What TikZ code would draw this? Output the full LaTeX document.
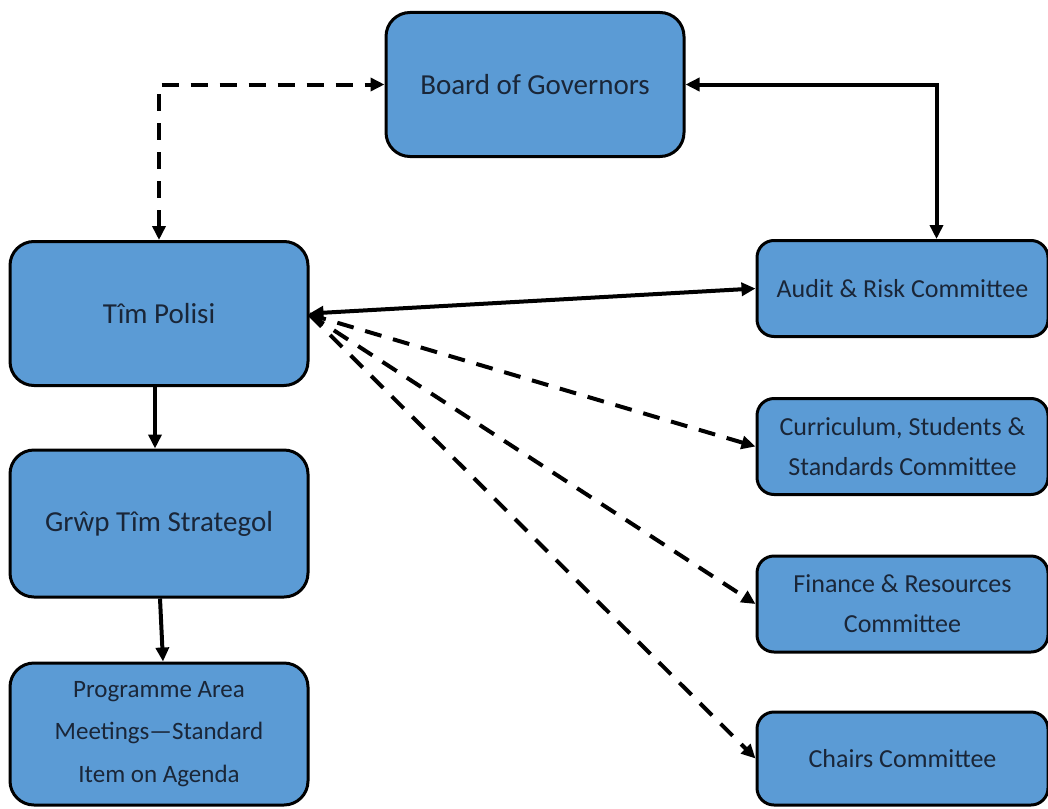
\documentclass[tikz,border=0pt]{standalone}
\usepackage{fontspec}
\setmainfont{Carlito}
\usepackage{tikz}
\usetikzlibrary{positioning}
\usetikzlibrary{arrows.meta}

\definecolor{boxblue}{HTML}{5B9BD5}
\definecolor{boxtext}{HTML}{1A2638}

\tikzset{
  unit/.style={draw=black, line width=3pt, fill=boxblue, text=boxtext,
    rounded corners=24pt, align=center, inner sep=0pt},
  bigunit/.style={unit, minimum width=298pt, minimum height=144pt, font=\fontsize{29}{36}\selectfont},
  committee/.style={unit, rounded corners=17pt, minimum width=291pt, minimum height=96pt, font=\fontsize{26}{40}\selectfont},
  link/.style={line width=4pt, >={Triangle[length=14pt,width=13pt]}},
  dlink/.style={link, dash pattern=on 17pt off 12pt}
}

\begin{document}
\begin{tikzpicture}[x=1pt, y=-1pt, node distance=150pt, on grid]%, semithick]

\useasboundingbox (0,0) rectangle (1048,808);

\node [bigunit] (board) at (535,84.5) {Board of Governors};
\node [bigunit] (polisi) at (159,313.5) {Tîm Polisi};
\node [bigunit, minimum height=147pt] (grwp) [below = 210pt of polisi] {Grŵp Tîm Strategol};
\node [bigunit, minimum height=142pt, font=\fontsize{25}{42.5}\selectfont] (prog) [below = 210.5pt of grwp]
  {Programme Area\\Meetings—Standard\\Item on Agenda};

\node [committee] (audit) at (902.5,288.5) {Audit \& Risk Committee};
\node [committee] (curr) [below = 158pt of audit] {Curriculum, Students \&\\Standards Committee};
\node [committee] (fin) [below = 157.5pt of curr] {Finance \& Resources\\Committee};
\node [committee, minimum height=93pt] (chairs) [below = 154.5pt of fin] {Chairs Committee};

\draw [dlink, <->] (polisi.north) |- (board.west);
\draw [link, <->] (board.east) -| ([xshift=34pt]audit.north);
\draw [link, <->] (polisi.east) -- (audit.west);
\draw [dlink, ->] ([yshift=-1pt]polisi.east) -- (curr.west);
\draw [dlink, ->] ([yshift=-1pt]polisi.east) -- (fin.west);
\draw [dlink, ->] ([yshift=-1pt]polisi.east) -- (chairs.west);
\draw [link, ->] ([xshift=-4pt]polisi.south) -- ([xshift=-4pt]grwp.north);
\draw [link, ->] ([xshift=1pt]grwp.south) -- ([xshift=4pt]prog.north);

\end{tikzpicture}
\end{document}
